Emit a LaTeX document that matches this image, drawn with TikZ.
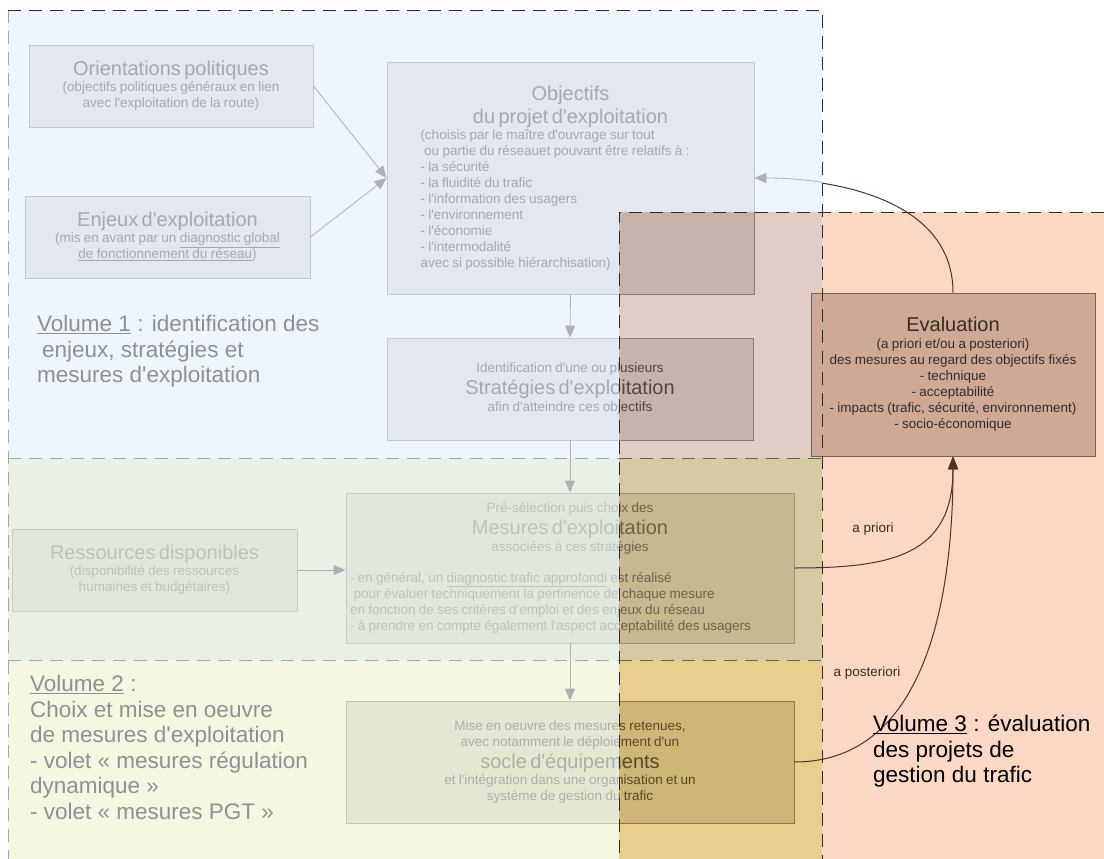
\documentclass[tikz,border=0pt]{standalone}
\usepackage{fontspec}
\setmainfont{Liberation Sans}[Ligatures=TeXOff]
\usetikzlibrary{arrows.meta}
\setlength{\parindent}{0pt}

% zones
\definecolor{zoneblue}{HTML}{EFF5FD}
\definecolor{zonegreen}{HTML}{E9F1E7}
\definecolor{zoneyellow}{HTML}{F4F8E1}
\definecolor{zoneorange}{HTML}{FBD8C4}
\definecolor{overblue}{HTML}{E0CDC6}
\definecolor{overgreen}{HTML}{D6CAA3}
\definecolor{overyellow}{HTML}{E8CF8D}
% boxes, light
\definecolor{fillA}{HTML}{E3E7EF}
\definecolor{lineA}{HTML}{C4C8CF}
\definecolor{textA}{HTML}{A5A8AE}
\definecolor{fillB}{HTML}{E1E7DC}
\definecolor{lineB}{HTML}{C8CFC3}
\definecolor{textB}{HTML}{BCC3BA}
\definecolor{fillC}{HTML}{E4E8D3}
\definecolor{lineC}{HTML}{C2C6B3}
\definecolor{textC}{HTML}{ACAFA2}
% boxes, under volume 3
\definecolor{fillAdark}{HTML}{C6B3AC}
\definecolor{lineAdark}{HTML}{8C7872}
\definecolor{textAdark}{HTML}{54443E}
\definecolor{fillBdark}{HTML}{C7B890}
\definecolor{lineBdark}{HTML}{9E8F6C}
\definecolor{textBdark}{HTML}{6F6148}
\definecolor{fillCdark}{HTML}{CDB676}
\definecolor{lineCdark}{HTML}{907648}
\definecolor{textCdark}{HTML}{5A4626}
% misc
\definecolor{volgray}{HTML}{8E9093}
\definecolor{arrowgray}{HTML}{ADB0B5}
\definecolor{evalfill}{HTML}{CDAA98}
\definecolor{evalline}{HTML}{7E604F}
\definecolor{evaltext}{HTML}{3A2A22}
\definecolor{evalcurve}{HTML}{4A3428}
\definecolor{dashdark}{HTML}{2B2B2B}
\definecolor{dashgray}{HTML}{A3A5A7}
\definecolor{dashbrown}{HTML}{6F5D52}

\newcommand\ttlfont{\fontsize{20}{23}\selectfont}
\newcommand\txtfont{\fontsize{13.5}{16}\selectfont}

\tikzset{
  flowbox/.style={draw, line width=0.8pt, inner sep=0pt, align=center},
  boxA/.style={flowbox, fill=fillA, draw=lineA, text=textA},
  boxB/.style={flowbox, fill=fillB, draw=lineB, text=textB},
  boxC/.style={flowbox, fill=fillC, draw=lineC, text=textC},
  evalbox/.style={flowbox, fill=evalfill, draw=evalline, text=evaltext},
  flowarrow/.style={draw=arrowgray, line width=0.8pt, -{Triangle[length=12pt,width=10pt]}},
  evalarrow/.style={draw=evalcurve, line width=1pt, -{Triangle[length=13pt,width=10pt]}},
  zoneline/.style={line width=0.9pt, dash pattern=on 13pt off 8pt},
  volnote/.style={align=left, anchor=north west, inner sep=0pt, font=\fontsize{22.5}{25.5}\selectfont},
  curvelabel/.style={inner sep=0pt, text=evaltext, font=\txtfont},
}

% boxes of the main column (drawn twice: plain and under volume 3)
\newcommand\flowboxes{%
\node[boxA, minimum width=367pt, minimum height=232pt, text width=300pt, align=left] (obj) at (570.5,178) {%
  {\centering\ttlfont Objectifs\\ du projet d'exploitation\par}
  {\txtfont (choisis par le maître d'ouvrage sur tout\\
  \hspace*{3.7pt}ou partie du réseauet pouvant être relatifs à :\\
  - la sécurité\\
  - la fluidité du trafic\\
  - l'information des usagers\\
  - l'environnement\\
  - l'économie\\
  - l'intermodalité\\
  avec si possible hiérarchisation)\par}};
\node[boxA, minimum width=366pt, minimum height=102pt, text width=340pt] (strat) at (570,389) {%
  {\txtfont Identification d'une ou plusieurs\par}
  {\fontsize{20}{21.5}\selectfont Stratégies d'exploitation\par}
  {\fontsize{13.5}{17.5}\selectfont afin d'atteindre ces objectifs\par}};
\node[boxB, minimum width=448pt, minimum height=150pt, text width=440pt, align=left] (mes) at (570,568) {%
  {\centering\txtfont Pré-sélection puis choix des\par
  \fontsize{20}{22}\selectfont Mesures d'exploitation\par
  \fontsize{13.5}{16.5}\selectfont associées à ces stratégies\par}
  \vspace{15pt}
  {\txtfont - en général, un \underline{diagnostic trafic approfondi} est réalisé\\
  \hspace*{3.7pt}pour évaluer techniquement la pertinence de chaque mesure\\
  en fonction de ses critères d'emploi et des enjeux du réseau\\
  - à prendre en compte également l'aspect acceptabilité des usagers\par}};
\node[boxC, minimum width=448pt, minimum height=122pt, text width=430pt] (soc) at (570,762) {%
  {\txtfont Mise en oeuvre des mesures retenues,\\ avec notamment le déploiement d'un\par}
  {\fontsize{20}{22}\selectfont socle d'équipements\par}
  {\txtfont et l'intégration dans une organisation et un\\ système de gestion du trafic\par}};
}

\begin{document}
\begin{tikzpicture}[x=1pt,y=-1pt]
\useasboundingbox (0,0) rectangle (1104,859);
% volumes 1 and 2
\fill[zoneblue] (8,10) rectangle (822,458);
\fill[zonegreen] (8,458) rectangle (822,660);
\fill[zoneyellow] (8,660) rectangle (822,859);
% boxes
\flowboxes
\node[boxA, minimum width=284pt, minimum height=82pt, text width=270pt] (orient) at (171,86) {%
  {\ttlfont Orientations politiques\par}
  {\txtfont (objectifs politiques généraux en lien\\ avec l'exploitation de la route)\par}};
\node[boxA, minimum width=285pt, minimum height=82pt, text width=270pt] (enjeux) at (167.5,237) {%
  {\ttlfont Enjeux d'exploitation\par}
  {\txtfont (mis en avant par un \underline{diagnostic global}\\ \underline{de fonctionnement du réseau})\par}};
\node[boxB, minimum width=285pt, minimum height=82pt, text width=270pt] (res) at (154.5,570) {%
  {\ttlfont Ressources disponibles\par}
  {\txtfont (disponibilité des ressources\\ humaines et budgétaires)\par}};
% arrows
\draw[flowarrow] (orient.east) -- (obj.west);
\draw[flowarrow] (enjeux.east) -- (obj.west);
\draw[flowarrow] (obj.south) -- (strat.north);
\draw[flowarrow] (strat.south) -- (mes.north);
\draw[flowarrow] (mes.south) -- (soc.north);
\draw[flowarrow] (res.east) -- (res.east -| mes.west);
% notes
\node[volnote, text=volgray] (vol1) at (37,315) {\underline{Volume 1} : identification des\\ \hspace*{5pt}enjeux, stratégies et\\ mesures d'exploitation};
\node[volnote, text=volgray] (vol2) at (30,675) {\underline{Volume 2} :\\ Choix et mise en oeuvre\\ de mesures d'exploitation\\ - volet « mesures régulation\\ dynamique »\\ - volet « mesures PGT »};
% volume 3
\scope
\clip (619,212) rectangle (1104,859);
\fill[zoneorange] (619,212) rectangle (1104,859);
\fill[overblue] (619,212) rectangle (822,458);
\fill[overgreen] (619,458) rectangle (822,660);
\fill[overyellow] (619,660) rectangle (822,859);
\colorlet{fillA}{fillAdark}\colorlet{lineA}{lineAdark}\colorlet{textA}{textAdark}
\colorlet{fillB}{fillBdark}\colorlet{lineB}{lineBdark}\colorlet{textB}{textBdark}
\colorlet{fillC}{fillCdark}\colorlet{lineC}{lineCdark}\colorlet{textC}{textCdark}
\flowboxes
\endscope
\node[evalbox, minimum width=284pt, minimum height=163pt, text width=280pt] (eval) at (953,374.5) {%
  {\ttlfont Evaluation\par}
  {\fontsize{13.5}{17}\selectfont (a priori et/ou a posteriori)\par}
  {\txtfont des mesures au regard des objectifs fixés\\ - technique\\ - acceptabilité\\ - impacts (trafic, sécurité, environnement)\\ - socio-économique\par}};
\draw[evalarrow, looseness=1.3] (mes.east) to[out=0,in=-90] (eval.south);
\draw[evalarrow] (soc.east) to[out=0,in=-90] (eval.south);
\node[curvelabel] (priori) at (873,529) {a priori};
\node[curvelabel] (posteriori) at (867,673) {a posteriori};
\node[volnote, text=black] (vol3) at (873,715) {\underline{Volume 3} : évaluation\\ des projets de\\ gestion du trafic};
% back to the objectives
\scope
\clip (822,0) rectangle (1104,859);
\draw[evalcurve, line width=1pt] (eval.north) to[out=90,in=0] (obj.east);
\endscope
\scope
\clip (0,0) rectangle (822,212);
\draw[flowarrow] (eval.north) to[out=90,in=0] (obj.east);
\endscope
% outlines
\draw[zoneline, dashgray] (8,10) -- (8,859);
\draw[zoneline, dashgray] (8,458) -- (619,458) (8,660) -- (619,660);
\draw[zoneline, dashbrown] (619,458) -- (822,458) (619,660) -- (822,660);
\draw[zoneline, dashdark] (8,10) -- (822,10) -- (822,859);
\draw[zoneline, dashdark] (1104,212) -- (619,212) -- (619,859);
\end{tikzpicture}
\end{document}
